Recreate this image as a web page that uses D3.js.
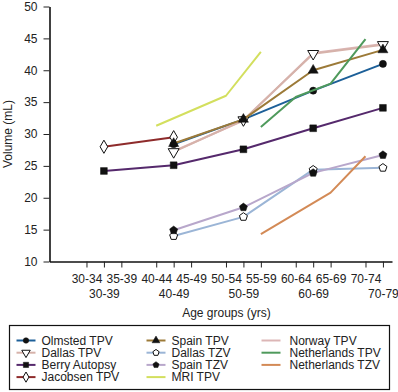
<!DOCTYPE html>
<html><head><meta charset="utf-8">
<script src="https://cdn.jsdelivr.net/npm/d3@7"></script>
<style>body{margin:0;background:#fff} svg{display:block} text{font-family:"Liberation Sans",Arial,Helvetica,sans-serif;fill:#222}</style>
</head><body><svg id="c" width="398" height="392"></svg>
<script>
const fiveYearGroups = ["30-34","35-39","40-44","45-49","50-54","55-59","60-64","65-69","70-74"];
const decadeGroups = ["30-39","40-49","50-59","60-69","70-79"];
const yTicks = [10,15,20,25,30,35,40,45,50];

// values per decade group (null = no data)
const olmstedTPV   = [null, 28.4, 32.3, 36.8, 41.0];
const dallasTPV    = [null, 27.2, 32.2, 42.6, 44.0];
const berryAutopsy = [24.2, 25.1, 27.6, 30.9, 34.1];
const jacobsenTPV  = [28.0, 29.5, null, null, null];
const spainTPV     = [null, 28.5, 32.3, 40.0, 43.2];
const dallasTZV    = [null, 14.0, 17.0, 24.4, 24.7];
const spainTZV     = [null, 14.9, 18.5, 23.9, 26.7];
const norwayTPV    = [null, 27.3, 32.1, 42.7, 44.1];
// values per five-year group
const mriTPV         = [null, null, 31.3, null, 36.0, 42.9, null, null, null];
const netherlandsTPV = [null, null, null, null, null, 31.1, 35.8, 37.9, 44.9];
const netherlandsTZV = [null, null, null, null, null, 14.3, null, 20.8, 26.5];

const series = [
  {name:"Olmsted TPV", vals:olmstedTPV, grp:"dec", color:"#1c5f98", sym:"circle"},
  {name:"Dallas TPV", vals:dallasTPV, grp:"dec", color:"#d6b2aa", sym:"tridown"},
  {name:"Berry Autopsy", vals:berryAutopsy, grp:"dec", color:"#55296c", sym:"square"},
  {name:"Jacobsen TPV", vals:jacobsenTPV, grp:"dec", color:"#8e2b2b", sym:"diamond"},
  {name:"Spain TPV", vals:spainTPV, grp:"dec", color:"#9c7a38", sym:"triangle"},
  {name:"Dallas TZV", vals:dallasTZV, grp:"dec", color:"#9bb5d6", sym:"pentOpen"},
  {name:"Spain TZV", vals:spainTZV, grp:"dec", color:"#b8a7cb", sym:"pentFill"},
  {name:"MRI TPV", vals:mriTPV, grp:"five", color:"#d3df5e", sym:null},
  {name:"Norway TPV", vals:norwayTPV, grp:"dec", color:"#dcb6b6", sym:null},
  {name:"Netherlands TPV", vals:netherlandsTPV, grp:"five", color:"#4f9a5c", sym:null},
  {name:"Netherlands TZV", vals:netherlandsTZV, grp:"five", color:"#d38a56", sym:null}
];
// draw order (Norway under Dallas)
const drawOrder = ["Norway TPV","Olmsted TPV","Dallas TPV","Berry Autopsy","Jacobsen TPV","Spain TPV","Dallas TZV","Spain TZV","MRI TPV","Netherlands TPV","Netherlands TZV"];

const svg = d3.select("#c");
const x = d3.scaleLinear().domain([-1.06, 8.76]).range([49.5, 392]);
const y = d3.scaleLinear().domain([10, 50]).range([261.5, 6.5]);
const posFive = i => i;
const posDec = j => 2*j + 0.5;

// Y axis
const yAx = svg.append("g").attr("transform","translate(49.5,0)")
  .call(d3.axisLeft(y).tickValues(yTicks).tickSize(6).tickPadding(6).tickSizeOuter(0));
// X axes
const xAx1 = svg.append("g").attr("transform","translate(0,261.5)")
  .call(d3.axisBottom(x).tickValues(fiveYearGroups.map((d,i)=>posFive(i)))
    .tickFormat((d,i)=>fiveYearGroups[i]).tickSize(6).tickPadding(7).tickSizeOuter(0));
const xAx2 = svg.append("g").attr("transform","translate(0,261.5)")
  .call(d3.axisBottom(x).tickValues(decadeGroups.map((d,j)=>posDec(j)))
    .tickFormat((d,i)=>decadeGroups[i]).tickSize(6).tickPadding(22).tickSizeOuter(0));
xAx2.select(".domain").remove();
svg.selectAll(".tick text").attr("font-size",12).style("fill","#222");
svg.selectAll(".tick line").attr("stroke","#222");
svg.selectAll(".domain").attr("stroke","#111").attr("stroke-width",1.6);

// axis titles
svg.append("text").attr("transform","translate(12,134) rotate(-90)")
  .attr("text-anchor","middle").attr("font-size",12).text("Volume (mL)");
svg.append("text").attr("x",226.5).attr("y",317).attr("text-anchor","middle")
  .attr("font-size",12).text("Age groups (yrs)");

function symPath(sym, s) {
  if (sym === "circle") return d3.symbol(d3.symbolCircle, 40*s)();
  if (sym === "square") return d3.symbol(d3.symbolSquare, 46*s)();
  if (sym === "triangle") return d3.symbol(d3.symbolTriangle, 44*s)();
  if (sym === "tridown") return d3.symbol(d3.symbolTriangle, 52*s)();
  if (sym === "diamond") return d3.symbol(d3.symbolDiamond, 50*s)();
  // pentagon
  const r = 4.2*Math.sqrt(s);
  const pts = d3.range(5).map(k => {
    const a = -Math.PI/2 + k*2*Math.PI/5;
    return [r*Math.cos(a), r*Math.sin(a)];
  });
  return "M" + pts.map(p=>p.join(",")).join("L") + "Z";
}
function drawSym(g, sym, cx, cy, s) {
  if (!sym) return;
  const open = (sym === "tridown" || sym === "diamond" || sym === "pentOpen");
  const p = g.append("path").attr("d", symPath(sym, s))
    .attr("transform", `translate(${cx},${cy})` + (sym === "tridown" ? " rotate(180)" : ""))
    .attr("fill", open ? "#fff" : "#111")
    .attr("stroke", "#111").attr("stroke-width", open ? 1 : 0.5);
}

const line = d3.line().x(d=>x(d.p)).y(d=>y(d.v));
const plot = svg.append("g");
drawOrder.forEach(nm => {
  const s = series.find(d=>d.name===nm);
  const pts = s.vals.map((v,i)=>({p: s.grp==="dec" ? posDec(i) : posFive(i), v}))
    .filter(d=>d.v!==null);
  const g = plot.append("g");
  g.append("path").datum(pts).attr("d", line).attr("fill","none")
    .attr("stroke", s.color).attr("stroke-width", 2).attr("stroke-linejoin","round");
  pts.forEach(d => drawSym(g, s.sym, x(d.p), y(d.v), 1));
});

// legend
const lg = svg.append("g");
lg.append("rect").attr("x",9.5).attr("y",325.5).attr("width",380).attr("height",64)
  .attr("fill","#fff").attr("stroke","#111").attr("stroke-width",1.2);
const cols = [
  {lx0:16.5, lx1:35.5, tx:41.5, names:["Olmsted TPV","Dallas TPV","Berry Autopsy","Jacobsen TPV"]},
  {lx0:146.5, lx1:165.5, tx:171.5, names:["Spain TPV","Dallas TZV","Spain TZV","MRI TPV"]},
  {lx0:261.5, lx1:280.5, tx:289.5, names:["Norway TPV","Netherlands TPV","Netherlands TZV"]}
];
const rowY = [340.5, 352.7, 364.9, 377.1];
cols.forEach(c => c.names.forEach((nm, r) => {
  const s = series.find(d=>d.name===nm);
  const cy = rowY[r];
  lg.append("line").attr("x1",c.lx0).attr("x2",c.lx1).attr("y1",cy).attr("y2",cy)
    .attr("stroke", s.color).attr("stroke-width",2);
  drawSym(lg, s.sym, (c.lx0+c.lx1)/2, cy, 0.6);
  lg.append("text").attr("x",c.tx).attr("y",cy+4.3).attr("font-size",12).text(nm);
}));
</script></body></html>
